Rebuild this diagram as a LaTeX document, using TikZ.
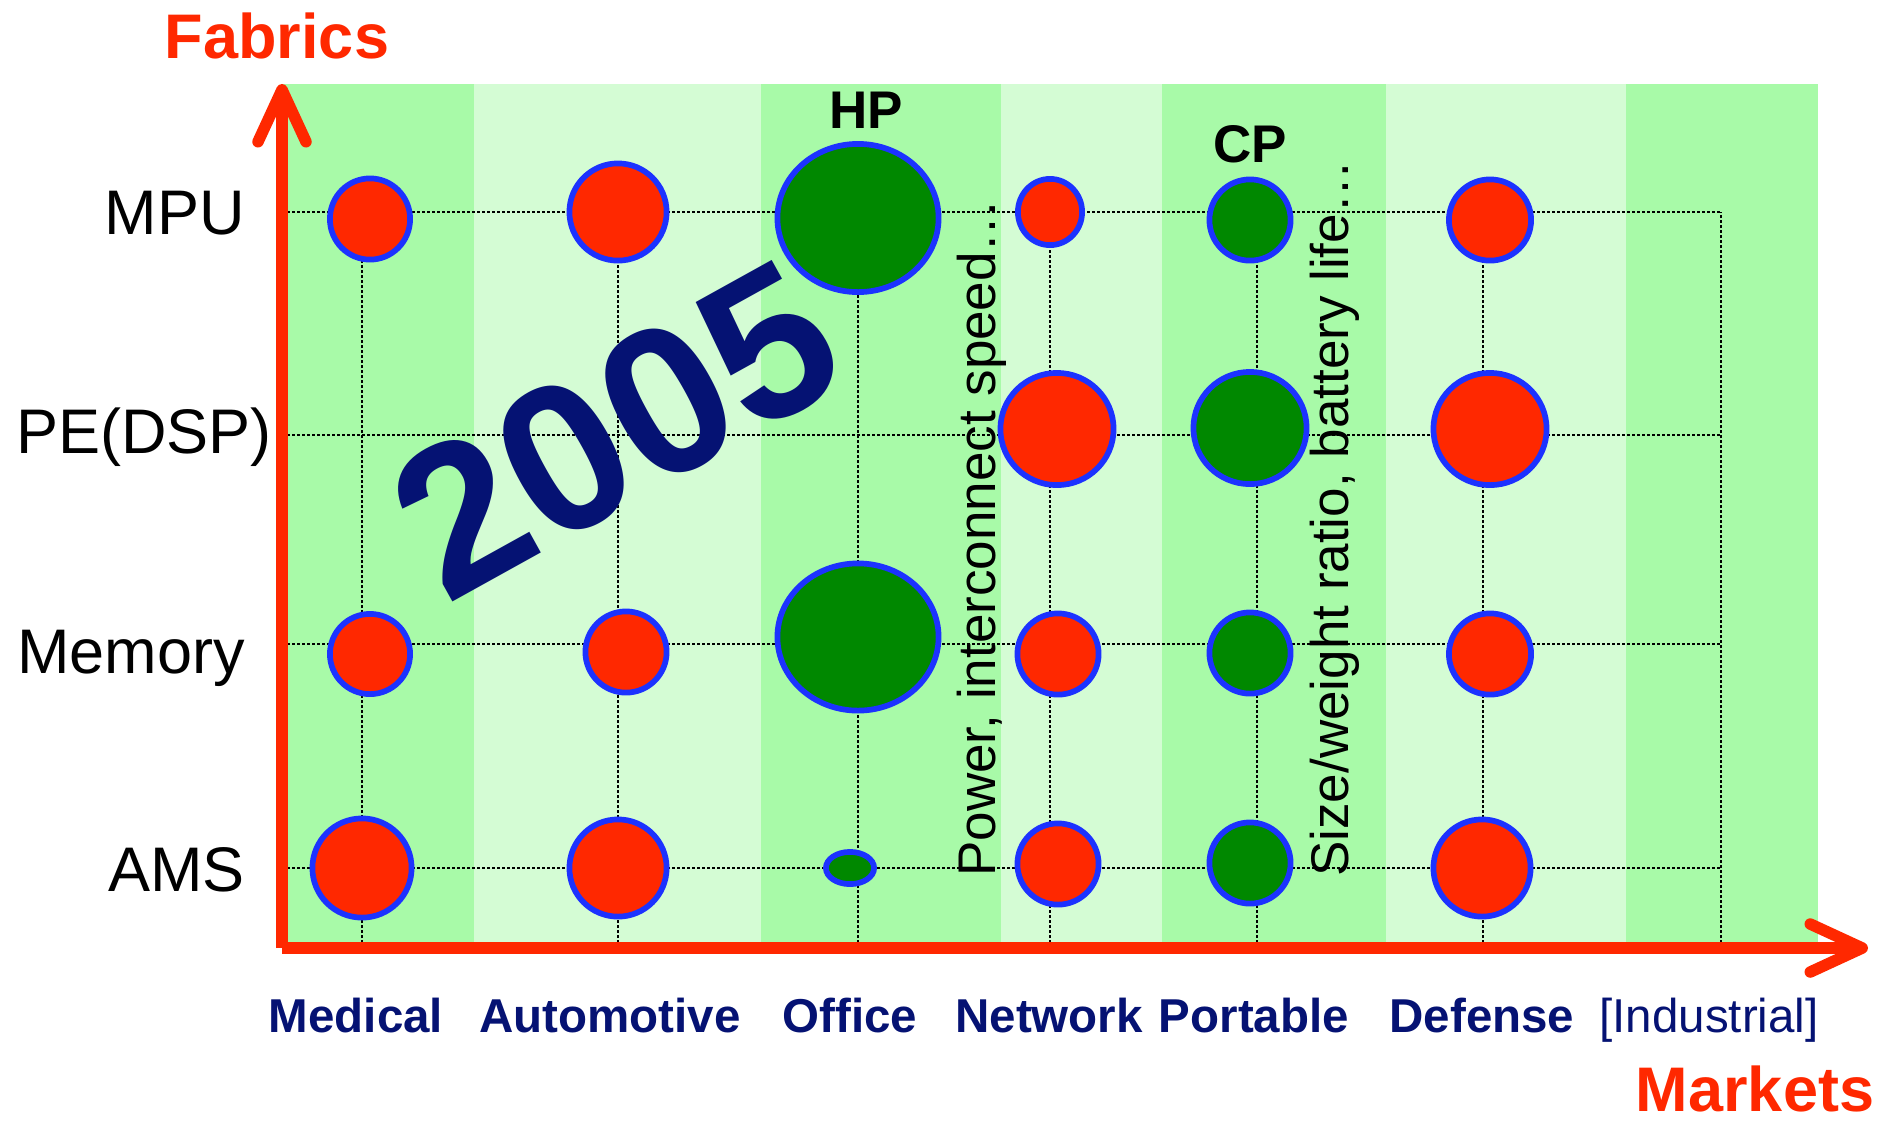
\documentclass[tikz,border=0pt]{standalone}
\usepackage{fontspec}
\setmainfont{Liberation Sans}
\usetikzlibrary{shapes.geometric,arrows.meta}
\definecolor{axisred}{RGB}{255,40,0}
\definecolor{bubred}{RGB}{255,40,0}
\definecolor{bubgreen}{RGB}{0,136,0}
\definecolor{bubblue}{RGB}{28,50,255}
\definecolor{yearblue}{RGB}{5,18,115}
\definecolor{bandmid}{RGB}{168,250,168}
\definecolor{bandpale}{RGB}{212,252,212}
\tikzstyle{every node}=[inner sep=0pt]
\tikzstyle{axis}=[draw=axisred, line width=5.75pt, -{Straight Barb[length=26pt,width=24pt,round]}]
\tikzstyle{gridline}=[line width=1.35pt, dash pattern=on 1.35pt off 1.15pt]
\tikzstyle{bubble}=[ellipse, draw=bubblue, line width=2.85pt]
\tikzstyle{hot}=[bubble, fill=bubred]
\tikzstyle{cool}=[bubble, fill=bubgreen]
\tikzstyle{fabric}=[anchor=base east, font=\fontsize{31.5}{36}\selectfont]
\tikzstyle{market}=[anchor=base, text=yearblue, font=\bfseries\fontsize{23.75}{28}\selectfont]
\tikzstyle{axislabel}=[anchor=base, text=axisred, font=\bfseries\fontsize{31.5}{36}\selectfont]
\tikzstyle{class}=[anchor=base, font=\bfseries\fontsize{26.5}{30}\selectfont]
\tikzstyle{driver}=[anchor=base west, rotate=90, font=\fontsize{26.5}{30}\selectfont]
\tikzset{radii/.style 2 args={minimum width=#1pt, minimum height=#2pt}}

\begin{document}
\begin{tikzpicture}[x=0.5pt, y=-0.5pt]
  \useasboundingbox (0,0) rectangle (1894,1121);
  % market bands
  \fill[bandmid]  (282,84) rectangle (474,948);
  \fill[bandpale] (474,84) rectangle (761,948);
  \fill[bandmid]  (761,84) rectangle (1001,948);
  \fill[bandpale] (1001,84) rectangle (1162,948);
  \fill[bandmid]  (1162,84) rectangle (1386,948);
  \fill[bandpale] (1386,84) rectangle (1626,948);
  \fill[bandmid]  (1626,84) rectangle (1818,948);

  % grid
  \coordinate (o) at (282,948);
  \coordinate (r1) at (282,212);
  \coordinate (r2) at (282,435);
  \coordinate (r3) at (282,644);
  \coordinate (r4) at (282,868);
  \coordinate (c1) at (362,948);
  \coordinate (c2) at (618,948);
  \coordinate (c3) at (858,948);
  \coordinate (c4) at (1050,948);
  \coordinate (c5) at (1257,948);
  \coordinate (c6) at (1483,948);
  \coordinate (c7) at (1721,948);
  \foreach \r in {r1,r2,r3,r4}
    \draw[gridline] (\r) -- (\r -| c7);
  \foreach \c in {c1,c2,c3,c4,c5,c6,c7}
    \draw[gridline] (\c) -- (\c |- r1);

  % MPU
  \node[hot,  radii={40.1}{40.6}] (mpu-med) at (370,219) {};
  \node[hot,  radii={48.6}{48.6}] (mpu-aut) at (618,212) {};
  \node[cool, radii={80.6}{74.1}] (mpu-off) at (858,218) {};
  \node[hot,  radii={32.1}{33.1}] (mpu-net) at (1050,212) {};
  \node[cool, radii={40.6}{40.6}] (mpu-por) at (1250,220) {};
  \node[hot,  radii={41.1}{40.6}] (mpu-def) at (1490,220) {};
  % PE(DSP)
  \node[hot,  radii={56.6}{56.1}] (pe-net) at (1057,429) {};
  \node[cool, radii={56.6}{56.1}] (pe-por) at (1250,428) {};
  \node[hot,  radii={56.6}{56.1}] (pe-def) at (1490,429) {};
  % Memory
  \node[hot,  radii={40.1}{40.1}] (mem-med) at (370,654) {};
  \node[hot,  radii={40.6}{40.6}] (mem-aut) at (626,652) {};
  \node[cool, radii={80.6}{73.6}] (mem-off) at (858,637) {};
  \node[hot,  radii={40.6}{40.6}] (mem-net) at (1058,654) {};
  \node[cool, radii={40.6}{40.6}] (mem-por) at (1250,653) {};
  \node[hot,  radii={41.1}{40.6}] (mem-def) at (1490,654) {};
  % AMS
  \node[hot,  radii={49.6}{49.6}] (ams-med) at (362,868) {};
  \node[hot,  radii={48.6}{48.6}] (ams-aut) at (618,868) {};
  \node[cool, radii={24.1}{16.1}] (ams-off) at (850,868) {};
  \node[hot,  radii={40.6}{40.6}] (ams-net) at (1058,864) {};
  \node[cool, radii={40.6}{40.6}] (ams-por) at (1250,863) {};
  \node[hot,  radii={48.6}{48.6}] (ams-def) at (1482,868) {};

  % year stamp
  \node[anchor=base west, rotate=29, text=yearblue,
        font=\bfseries\fontsize{105}{120}\selectfont] (year) at (446,606) {2005};

  % drivers
  \node[class] (hp) at (866,128) {HP};
  \node[class] (cp) at (1250,162) {CP};
  \node[driver] (hp-note) at (995,877) {Power, interconnect speed…};
  \node[driver] (cp-note) at (1348,877) {Size/weight ratio, battery life…};

  % axes
  \coordinate (ytip) at (282,84);
  \coordinate (xtip) at (1868,948);
  \draw[axis] (o) -- (ytip);
  \draw[axis] (o) -- (xtip);
  \node[axislabel] (fabrics) at (277,58) {Fabrics};
  \node[axislabel] (markets) at (1755,1111) {Markets};

  % fabrics
  \node[fabric] (mpu) at (245,234) {MPU};
  \node[fabric] (pe) at (272,453) {PE(DSP)};
  \node[fabric] (memory) at (245,673) {Memory};
  \node[fabric] (ams) at (245,891) {AMS};

  % markets
  \node[market] (medical) at (356,1032) {Medical};
  \node[market] (automotive) at (610,1032) {Automotive};
  \node[market] (office) at (850,1032) {Office};
  \node[market] (network) at (1049,1032) {Network};
  \node[market] (portable) at (1254,1032) {Portable};
  \node[market] (defense) at (1482,1032) {Defense};
  \node[market, font=\fontsize{23.75}{28}\selectfont] (industrial) at (1709,1032) {[Industrial]};
\end{tikzpicture}
\end{document}
